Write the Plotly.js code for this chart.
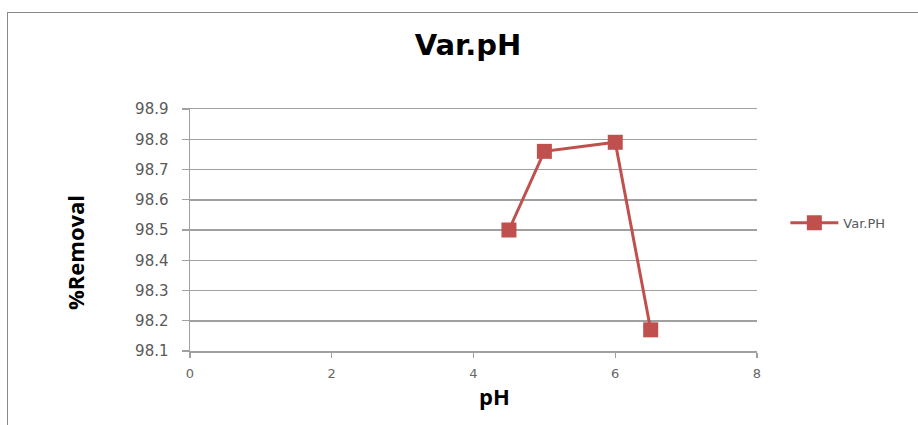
<!DOCTYPE html>
<html><head><meta charset="utf-8">
<script src="https://cdn.plot.ly/plotly-3.0.1.min.js"></script>
<style>
html,body{margin:0;padding:0;background:#fff;overflow:hidden;}
#frame{position:absolute;left:7px;top:12px;width:940px;height:440px;border-left:1.5px solid #8a8a8a;border-top:1.5px solid #8a8a8a;}
#chart{position:absolute;left:0;top:0;width:918px;height:425px;}
</style></head>
<body>
<div id="frame"></div>
<div id="chart"></div>
<script>
const chartTitle = "Var.pH";
const xTitle = "pH";
const yTitle = "%Removal";
const seriesName = "Var.PH";
const pH = [4.5, 5, 6, 6.5];
const removal = [98.5, 98.76, 98.79, 98.17];
const xTicks = [0, 2, 4, 6, 8];
const yTicks = [98.1, 98.2, 98.3, 98.4, 98.5, 98.6, 98.7, 98.8, 98.9];

const tickFont = "DejaVu Sans, Verdana, sans-serif";
const boldFont = "Open Sans, Liberation Sans, sans-serif";
const grid = '#a0a0a0';
Plotly.newPlot('chart', [{
  x: pH, y: removal, name: seriesName, type: 'scatter', mode: 'lines+markers',
  line: {color: '#c0504d', width: 3},
  marker: {symbol: 'square', size: 15, color: '#c0504d'}
}], {
  width: 918, height: 425,
  paper_bgcolor: 'rgba(0,0,0,0)', plot_bgcolor: 'rgba(0,0,0,0)',
  margin: {l: 190, r: 161, t: 109, b: 74},
  title: {text: '<b>' + chartTitle + '</b>', x: 468/918, xanchor: 'center', y: 1-45/425, yanchor: 'middle',
    font: {family: "DejaVu Sans, Verdana, sans-serif", size: 29, color: '#000'}},
  showlegend: true,
  legend: {x: 1.05, y: 0.53, xanchor: 'left', yanchor: 'middle', itemwidth: 48,
    font: {family: tickFont, size: 13, color: '#595959'}},
  xaxis: {range: [0, 8], tickvals: xTicks, ticktext: xTicks.map(String), showgrid: false, zeroline: false,
    showline: true, mirror: true, linecolor: grid, linewidth: 1.5,
    ticks: 'outside', ticklen: 5, tickcolor: grid, tickwidth: 1.2, ticklabelstandoff: 5,
    tickfont: {family: tickFont, size: 13, color: '#666'}},
  yaxis: {range: [98.1, 98.9], tickvals: yTicks, ticktext: yTicks.map(v => v.toFixed(1)),
    showgrid: true, gridcolor: grid, gridwidth: 1.5, zeroline: false,
    showline: true, linecolor: grid, linewidth: 1.5, ticks: 'outside', ticklen: 7, tickcolor: grid, tickwidth: 1.2,
    ticklabelstandoff: 10,
    tickfont: {family: tickFont, size: 15, color: '#595959'}},
  annotations: [
    {text: '<b>' + xTitle + '</b>', xref: 'paper', yref: 'paper', x: (494-190)/567, y: -(396-351)/242,
     xanchor: 'center', yanchor: 'middle', showarrow: false, font: {family: boldFont, size: 22, color: '#000'}},
    {text: '<b>' + yTitle + '</b>', xref: 'paper', yref: 'paper', x: -(190-75)/567, y: (351-253)/242,
     xanchor: 'center', yanchor: 'middle', textangle: -90, showarrow: false, font: {family: boldFont, size: 22, color: '#000'}}
  ]
}, {displayModeBar: false, staticPlot: true});
</script>
</body></html>
